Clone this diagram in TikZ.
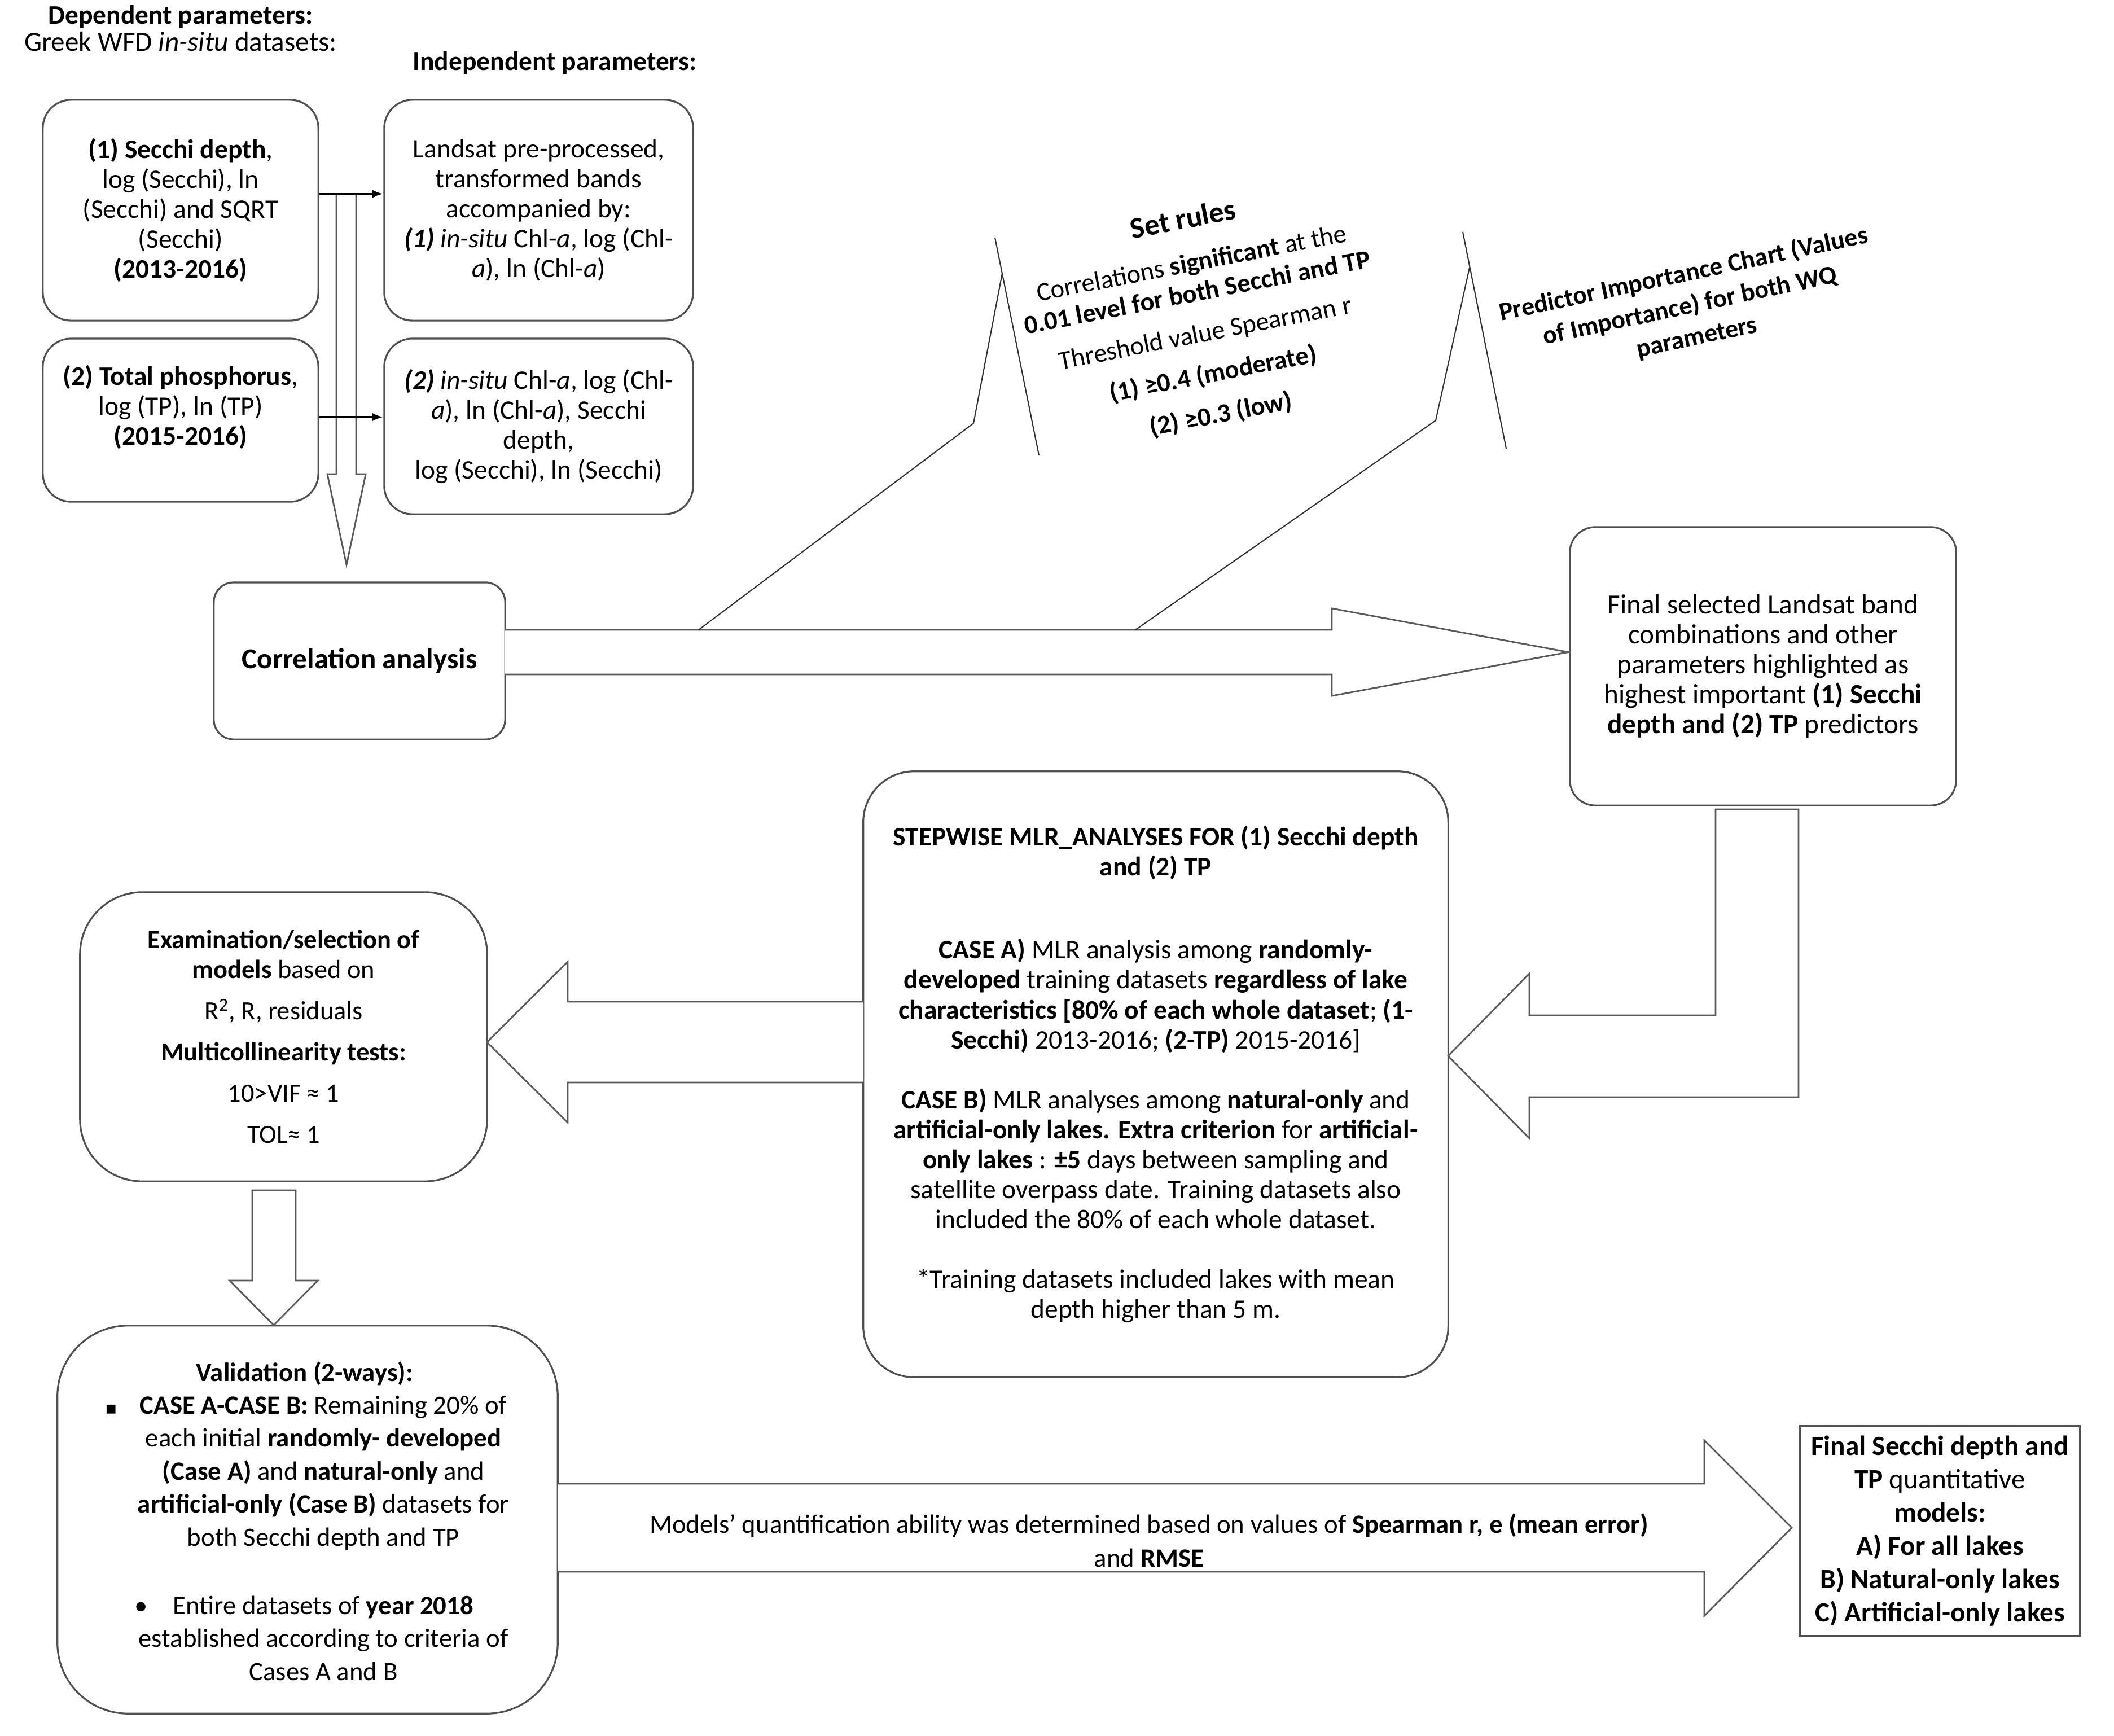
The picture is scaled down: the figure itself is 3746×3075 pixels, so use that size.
\documentclass[tikz,border=0pt]{standalone}
\usepackage{fontspec}
\setmainfont{Carlito}
\newfontfamily\symFont{DejaVu Sans}
\usetikzlibrary{positioning,arrows.meta}
\definecolor{boxLineColor}{RGB}{80,80,80}
\definecolor{arrowLineColor}{RGB}{90,90,90}
\newcommand{\boxFont}{\fontsize{13.5}{15.08}\selectfont}
\tikzstyle{flowchart} = [x = 0.01cm, y = -0.01cm]
\tikzstyle{boxStyle} = [draw=boxLineColor, line width=0.9pt, fill=white, inner sep=0pt, align=center, font=\boxFont]
\tikzstyle{textOnly} = [inner sep=0pt, align=center, font=\boxFont]
\tikzstyle{blockArrow} = [draw=arrowLineColor, line width=0.8pt, fill=white, line join=miter]
\tikzstyle{smallArrow} = [-{Latex[length=0.2cm, width=0.15cm]}, line width=1.1pt, black]
\tikzstyle{calloutLine} = [draw=black!80, line width=0.6pt]

\begin{document}
\begin{tikzpicture}[flowchart]
  \useasboundingbox (0,0) rectangle (3746,3075);

  \node[textOnly, font=\fontsize{14}{13.6}\selectfont] (depTitle) at (320,50) {{\fontsize{13.5}{13.6}\selectfont\textbf{Dependent parameters:}}\\ Greek WFD \textit{in-situ} datasets:};
  \node[textOnly, font=\fontsize{13.5}{15}\selectfont] (indepTitle) at (983,112) {\textbf{Independent parameters:}};

  \node[boxStyle, rounded corners=0.5cm, minimum width=4.88cm, minimum height=3.91cm] (secchi) at (320,372.5)
    {\textbf{(1) Secchi depth},\\ log (Secchi), ln\\ (Secchi) and SQRT\\ (Secchi)\\ \textbf{(2013-2016)}};
  \node[boxStyle, rounded corners=0.5cm, minimum width=5.47cm, minimum height=3.91cm] (landsat) at (954.5,372.5)
    {Landsat pre-processed,\\ transformed bands\\ accompanied by:\\ \textbf{\textit{(1)}} \textit{in-situ} Chl-\textit{a}, log (Chl-\\ \textit{a}), ln (Chl-\textit{a})};
  \node[boxStyle, rounded corners=0.5cm, minimum width=4.88cm, minimum height=2.89cm] (phosphorus) at (320,744.5)
    {\textbf{(2) Total phosphorus},\\ log (TP), ln (TP)\\ \textbf{(2015-2016)}\\ \mbox{}};
  \node[boxStyle, rounded corners=0.5cm, minimum width=5.47cm, minimum height=3.11cm] (insituTwo) at (954.5,755.5)
    {\textbf{\textit{(2)}} \textit{in-situ} Chl-\textit{a}, log (Chl-\\ \textit{a}), ln (Chl-\textit{a}), Secchi\\ depth,\\ log (Secchi), ln (Secchi)};

  \node[boxStyle, rounded corners=0.35cm, minimum width=5.16cm, minimum height=2.78cm, font=\fontsize{14.5}{15}\selectfont] (correlation) at (637,1171)
    {\textbf{Correlation analysis}};
  \node[boxStyle, rounded corners=0.45cm, minimum width=6.84cm, minimum height=4.93cm, font=\fontsize{14}{15.08}\selectfont] (finalSelected) at (3124,1180.5)
    {Final selected Landsat band\\ combinations and other\\ parameters highlighted as\\ highest important \textbf{(1) Secchi}\\ \textbf{depth and (2) TP} predictors};
  \node[boxStyle, rounded corners=0.9cm, minimum width=10.36cm, minimum height=10.73cm] (stepwise) at (2048,1903.5)
    {\textbf{STEPWISE MLR\_ANALYSES FOR (1) Secchi depth}\\ \textbf{and (2) TP}\\[0.94cm]
     \textbf{CASE A)} MLR analysis among \textbf{randomly-}\\
     \textbf{developed} training datasets \textbf{regardless of lake}\\
     \textbf{characteristics [80\% of each whole dataset}; \textbf{(1-}\\
     \textbf{Secchi)} 2013-2016; \textbf{(2-TP)} 2015-2016]\\[0.53cm]
     \textbf{CASE B)} MLR analyses among \textbf{natural-only} and\\
     \textbf{artificial-only lakes. Extra criterion} for \textbf{artificial-}\\
     \textbf{only lakes} : \textbf{±5} days between sampling and\\
     satellite overpass date. Training datasets also\\
     included the 80\% of each whole dataset.\\[0.53cm]
     *Training datasets included lakes with mean\\ depth higher than 5 m.};
  \node[boxStyle, rounded corners=1.1cm, minimum width=7.21cm, minimum height=5.12cm, font=\fontsize{13.2}{15.08}\selectfont] (examination) at (502.5,1837)
    {\textbf{Examination/selection of}\\ \textbf{models} based on\\[0.2cm] R\textsuperscript{2}, R, residuals\\[0.2cm]
     \textbf{Multicollinearity tests:}\\[0.2cm] 10>VIF ≈ 1\\[0.2cm] TOL≈ 1};
  \node[boxStyle, rounded corners=1.25cm, minimum width=8.86cm, minimum height=6.87cm] (validation) at (545,2692.5) {};
  \node[textOnly, font=\fontsize{13.3}{16.6}\selectfont] (validationText) at (573,2695)
    {\textbf{Validation (2-ways):}\rule{0.66cm}{0pt}\\
     \llap{{\symFont\fontsize{9}{9}\selectfont ▪}\hspace{0.4cm}}\textbf{CASE A-CASE B:} Remaining 20\% of\\
     each initial \textbf{randomly- developed}\\
     \textbf{(Case A)} and \textbf{natural-only} and\\
     \textbf{artificial-only (Case B)} datasets for\\
     both Secchi depth and TP\\[0.63cm]
     \llap{•\hspace{0.45cm}}Entire datasets of \textbf{year 2018}\\
     established according to criteria of\\
     Cases A and B};
  \node[boxStyle, minimum width=4.95cm, minimum height=3.71cm, font=\fontsize{14}{16.8}\selectfont] (finalModels) at (3437.5,2712.5)
    {\textbf{Final Secchi depth and}\\ \textbf{TP} quantitative\\ \textbf{models:}\\ \textbf{A) For all lakes}\\
     \textbf{B) Natural-only lakes}\\ \textbf{C) Artificial-only lakes}};

  \coordinate (secchiOut) at ([yshift=0.29cm]secchi.east);
  \coordinate (phosphorusOut) at ([yshift=0.055cm]phosphorus.east);

  \draw[blockArrow] (596,344) -- (596,840) -- (580,840) -- (614,1001) -- (648,840) -- (631,840) -- (631,344);
  \draw[blockArrow] (895,1116) -- (2360,1116) -- (2360,1078) -- (2779,1155.5) -- (2360,1233) -- (2360,1195) -- (895,1195);
  \draw[blockArrow] (3040,1434) -- (3040,1799) -- (2710,1799) -- (2710,1725) -- (2566,1871) -- (2710,2017) -- (2710,1944) -- (3187,1944) -- (3187,1434) -- cycle;
  \draw[blockArrow] (1530,1775) -- (1006,1775) -- (1006,1704) -- (863,1846.5) -- (1006,1989) -- (1006,1918) -- (1530,1918);
  \draw[blockArrow] (447,2109) -- (447,2269) -- (407,2269) -- (485,2348) -- (563,2269) -- (524,2269) -- (524,2109) -- cycle;
  \draw[blockArrow] (988,2629) -- (3020,2629) -- (3020,2552) -- (3175,2707) -- (3020,2863) -- (3020,2785) -- (988,2785);

  \draw[calloutLine] (1238,1116) -- (1725,750) -- (1776,484);
  \draw[calloutLine] (1763,421) -- (1841,807);
  \draw[calloutLine] (2012,1116) -- (2544,745) -- (2604,474);
  \draw[calloutLine] (2592,411) -- (2669,795);

  \draw[smallArrow] (secchiOut) -- (secchiOut -| landsat.west);
  \draw[smallArrow] (phosphorusOut) -- (phosphorusOut -| insituTwo.west);

  \node[textOnly, rotate=11, font=\fontsize{13.2}{15.08}\selectfont] (setRules) at (2130,562)
    {{\fontsize{15}{16}\selectfont\textbf{Set rules}}\\[0.24cm]
     Correlations \textbf{significant} at the\\
     \textbf{0.01 level for both Secchi and TP}\\[0.2cm]
     Threshold value Spearman r\\[0.2cm]
     \textbf{(1) ≥0.4 (moderate)}\\[0.2cm]
     \textbf{(2) ≥0.3 (low)}};
  \node[textOnly, rotate=12, font=\fontsize{13}{16.2}\selectfont] (predictor) at (2995,542)
    {\textbf{Predictor Importance Chart (Values}\\ \textbf{of Importance) for both WQ}\\ \textbf{parameters}};
  \node[textOnly, font=\fontsize{13.3}{17}\selectfont] (modelsText) at (2036,2729)
    {Models' quantification ability was determined based on values of \textbf{Spearman r, e (mean error)}\\ and \textbf{RMSE}};
\end{tikzpicture}
\end{document}
